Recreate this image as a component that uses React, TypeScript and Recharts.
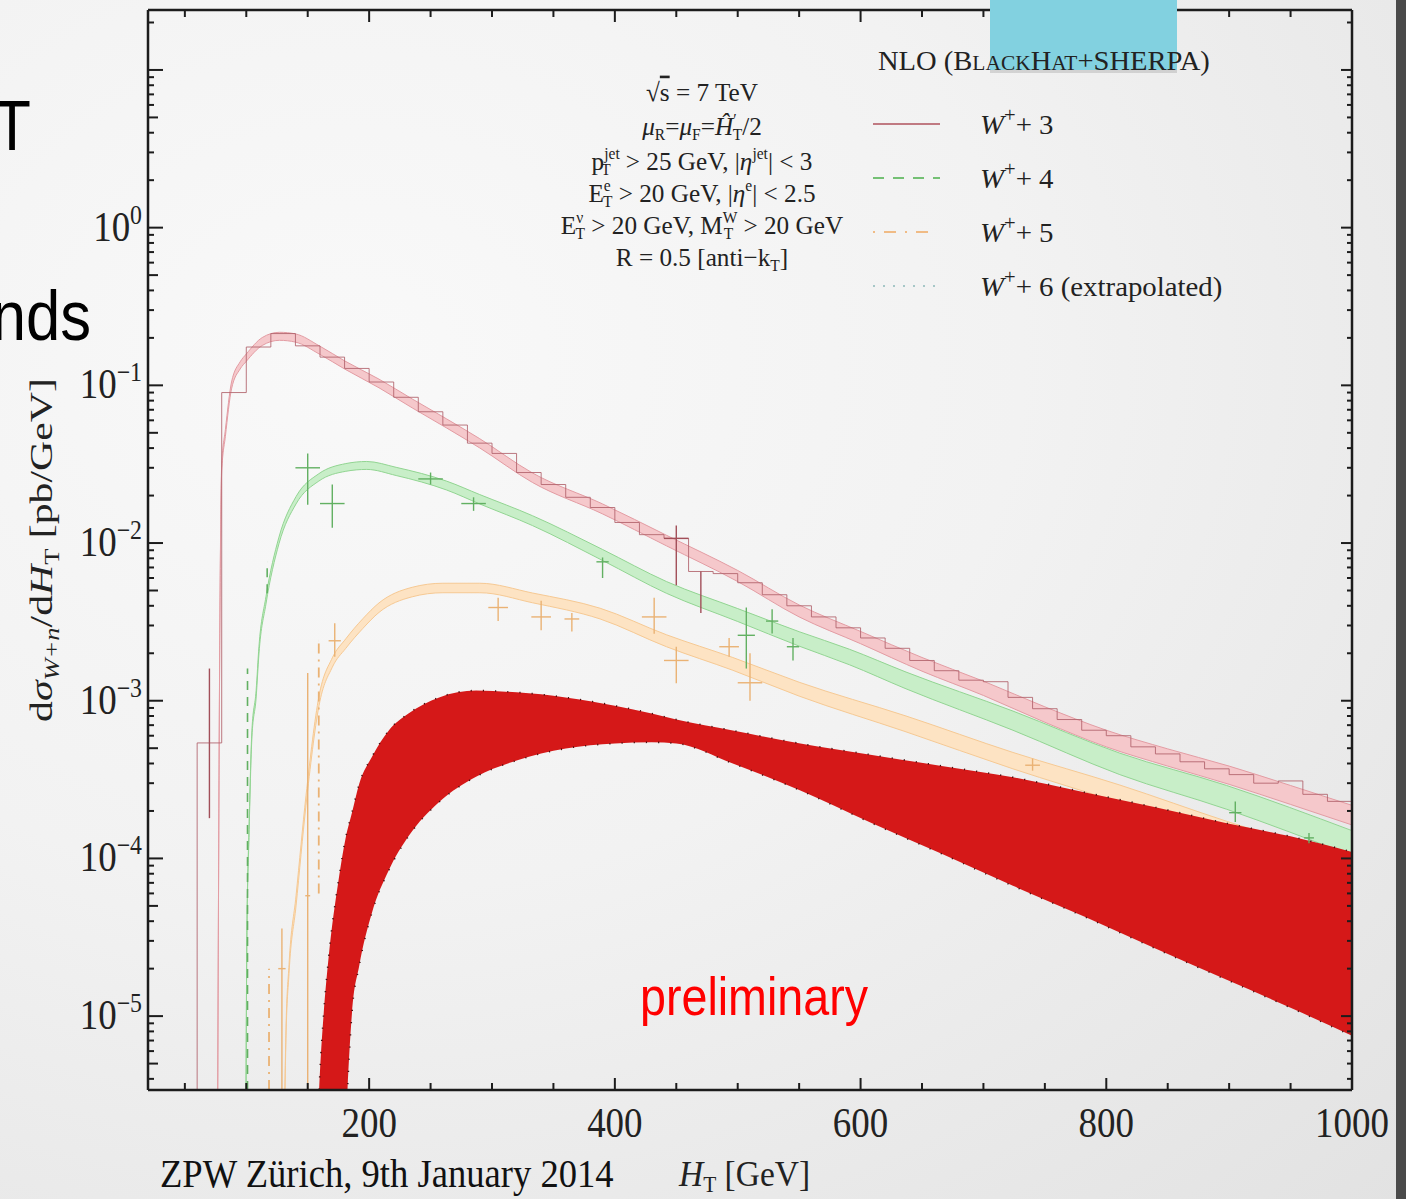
import React from 'react';
import { ComposedChart, XAxis, YAxis, Area, Line, Scatter, ErrorBar } from 'recharts';

const W = 1406;
const H = 1199;
const SERIF = '"Liberation Serif", "DejaVu Serif", serif';
const SANS = '"Liberation Sans", Arial, sans-serif';
const SX = 0.88;

// ---------- axes ----------
const xDomain = [20, 1000];
const xTicks = [50, 100, 150, 200, 250, 300, 350, 400, 450, 500, 550, 600, 650, 700, 750, 800, 850, 900, 950, 1000];
const xLabelTicks = [200, 400, 600, 800, 1000];
const yDomain = [3.4e-6, 24];
const yDecadeExps = [-6, -5, -4, -3, -2, -1, 0, 1];
const yLabelExps = [-5, -4, -3, -2, -1, 0];
const yMinorMult = [2, 3, 4, 5, 6, 7, 8, 9];

// ---------- W+3 band ----------
const w3X = [76.5, 78.5, 80, 83, 88, 95, 100, 113, 127, 140, 160, 180, 208, 235, 263, 290, 333, 390, 442, 500, 550, 600, 650, 700, 750, 800, 850, 900, 950, 1000];
const w3Lo = [1e-6, 2.85e-3, 0.0285, 0.0475, 0.095, 0.127, 0.142, 0.179, 0.193, 0.188, 0.157, 0.127, 0.0965, 0.072, 0.0537, 0.0401, 0.0242, 0.0153, 9.6e-3, 5.7e-3, 3.4e-3, 2.3e-3, 1.54e-3, 1.08e-3, 7.3e-4, 5.1e-4, 3.85e-4, 2.95e-4, 2.2e-4, 1.63e-4];
const w3Hi = [1e-6, 3.15e-3, 0.0315, 0.0525, 0.105, 0.141, 0.158, 0.201, 0.217, 0.212, 0.177, 0.143, 0.1095, 0.082, 0.0613, 0.0459, 0.0278, 0.0177, 0.0112, 6.7e-3, 4.05e-3, 2.75e-3, 1.88e-3, 1.33e-3, 9.15e-4, 6.5e-4, 4.95e-4, 3.85e-4, 2.9e-4, 2.17e-4];

// ---------- W+4 band ----------
const w4X = [99.5, 100.5, 102.2, 104.6, 108, 110.3, 116, 126.6, 140.5, 159, 181, 198, 222, 263, 290, 333, 390, 442, 500, 550, 591, 637, 724, 811, 898, 1000];
const w4Lo = [1e-6, 3.1e-5, 1.36e-4, 5.9e-4, 1.04e-3, 1.98e-3, 4.1e-3, 9.9e-3, 0.0177, 0.0247, 0.0285, 0.0293, 0.0268, 0.0217, 0.0177, 0.0129, 7.75e-3, 4.8e-3, 3.18e-3, 2.22e-3, 1.69e-3, 1.19e-3, 6.5e-4, 3.4e-4, 2.05e-4, 1.04e-4];
const w4Hi = [1e-6, 3.5e-5, 1.52e-4, 6.5e-4, 1.16e-3, 2.2e-3, 4.56e-3, 0.0109, 0.0197, 0.0275, 0.0319, 0.0329, 0.0302, 0.0247, 0.0203, 0.0149, 9.1e-3, 5.7e-3, 3.84e-3, 2.74e-3, 2.12e-3, 1.52e-3, 8.6e-4, 4.65e-4, 2.9e-4, 1.5e-4];

// ---------- W+5 band ----------
const w5X = [130.5, 132.3, 134.8, 140.5, 148.6, 159.2, 170, 181, 195, 208, 235, 260, 290, 333, 388, 442, 496, 550, 637, 724, 811, 898, 1000];
const w5Lo = [1e-6, 7.2e-6, 1.87e-5, 5.0e-5, 2.17e-4, 9.3e-4, 1.63e-3, 2.15e-3, 2.88e-3, 3.63e-3, 4.56e-3, 4.84e-3, 4.84e-3, 4.18e-3, 3.3e-3, 2.2e-3, 1.56e-3, 1.07e-3, 6.35e-4, 3.7e-4, 2.25e-4, 1.3e-4, 7.3e-5];
const w5Hi = [1e-6, 8.2e-6, 2.13e-5, 5.8e-5, 2.5e-4, 1.07e-3, 1.87e-3, 2.47e-3, 3.32e-3, 4.17e-3, 5.24e-3, 5.56e-3, 5.56e-3, 4.82e-3, 3.86e-3, 2.62e-3, 1.88e-3, 1.31e-3, 8.0e-4, 4.7e-4, 2.92e-4, 1.72e-4, 9.8e-5];

// ---------- W+6 (extrapolated) band ----------
const w6X = [158, 160, 163, 167, 175, 181, 186, 192, 202, 216, 232, 257, 287, 320, 360, 400, 430, 450, 496, 551, 608, 666, 724, 782, 840, 898, 950, 1000];
const w6Lo = [1e-7, 1e-7, 1e-7, 1e-7, 1e-7, 2e-6, 1.04e-5, 2.1e-5, 4.45e-5, 8.4e-5, 1.38e-4, 2.28e-4, 3.3e-4, 4.18e-4, 4.98e-4, 5.36e-4, 5.45e-4, 5.36e-4, 4.0e-4, 2.7e-4, 1.69e-4, 1.07e-4, 6.7e-5, 4.28e-5, 2.68e-5, 1.7e-5, 1.13e-5, 7.5e-6];
const w6Hi = [2e-6, 4.5e-6, 1.04e-5, 2.35e-5, 7.2e-5, 1.36e-4, 1.95e-4, 2.99e-4, 4.37e-4, 6.48e-4, 8.3e-4, 1.05e-3, 1.16e-3, 1.13e-3, 1.05e-3, 9.3e-4, 8.3e-4, 7.6e-4, 6.48e-4, 5.35e-4, 4.55e-4, 3.86e-4, 3.27e-4, 2.63e-4, 2.11e-4, 1.67e-4, 1.38e-4, 1.1e-4];

// ---------- W+3 NLO histogram (bin left edges) ----------
const w3HistX = [50, 60, 80, 100, 120, 140, 160, 180, 200, 220, 240, 260, 280, 300, 320, 340, 360, 380, 400, 420, 440, 460, 480, 500, 520, 540, 560, 580, 600, 620, 640, 660, 680, 700, 720, 740, 760, 780, 800, 820, 840, 860, 880, 900, 920, 940, 960, 980, 1000];
const w3HistY = [1e-7, 5.4e-4, 0.090, 0.175, 0.213, 0.178, 0.151, 0.128, 0.105, 0.084, 0.068, 0.056, 0.043, 0.037, 0.028, 0.0235, 0.0195, 0.0168, 0.0135, 0.0113, 0.0107, 6.6e-3, 6.4e-3, 5.6e-3, 4.7e-3, 4.0e-3, 3.4e-3, 2.9e-3, 2.5e-3, 2.15e-3, 1.8e-3, 1.55e-3, 1.35e-3, 1.32e-3, 1.05e-3, 8.9e-4, 7.6e-4, 6.5e-4, 6.0e-4, 5.1e-4, 4.6e-4, 4.1e-4, 3.7e-4, 3.4e-4, 3.0e-4, 3.1e-4, 2.55e-4, 2.3e-4, 2.3e-4];

// ---------- error crosses ----------
const w3ErrX = [70, 450, 470];
const w3ErrY = [5.4e-4, 0.0107, 6.6e-3];
const w3ErrLo = [1.8e-4, 5.4e-3, 3.6e-3];
const w3ErrHi = [1.6e-3, 0.0129, 6.6e-3];
const w3ErrDx = [0, 10, 0];

const w4ErrX = [150, 170, 250, 285, 390, 507, 528, 545, 905, 965];
const w4ErrY = [0.030, 0.0178, 0.0255, 0.0178, 7.6e-3, 2.6e-3, 3.2e-3, 2.2e-3, 1.95e-4, 1.35e-4];
const w4ErrLo = [0.0175, 0.0125, 0.0235, 0.016, 6.0e-3, 1.6e-3, 2.67e-3, 1.8e-3, 1.7e-4, 1.25e-4];
const w4ErrHi = [0.037, 0.0235, 0.028, 0.0195, 8.1e-3, 3.9e-3, 3.8e-3, 2.5e-3, 2.3e-4, 1.45e-4];
const w4ErrDx = [10, 10, 10, 10, 5, 7, 5, 5, 5, 4];
// dashed (low-statistics) W+4 bars
const w4DashX = [101, 117];
const w4DashY = [8e-4, 6.2e-3];
const w4DashLo = [1e-7, 4.8e-3];
const w4DashHi = [1.6e-3, 7.6e-3];

const w5ErrX = [129, 150, 172, 305, 340, 365, 432, 450, 493, 510, 740];
const w5ErrY = [2.0e-5, 5.8e-5, 2.4e-3, 3.9e-3, 3.4e-3, 3.3e-3, 3.4e-3, 1.8e-3, 2.2e-3, 1.3e-3, 3.9e-4];
const w5ErrLo = [1e-7, 1e-7, 1.9e-3, 3.2e-3, 2.8e-3, 2.75e-3, 2.66e-3, 1.29e-3, 1.9e-3, 1.0e-3, 3.6e-4];
const w5ErrHi = [3.6e-5, 1.5e-3, 3.1e-3, 4.5e-3, 4.3e-3, 3.6e-3, 4.5e-3, 2.2e-3, 2.5e-3, 2.0e-3, 4.3e-4];
const w5ErrDx = [3, 2, 5, 8, 8, 6, 10, 10, 8, 10, 6];
// dash-dot W+5 bars
const w5DashX = [118.5, 159];
const w5DashY = [1.2e-5, 7e-4];
const w5DashLo = [1e-7, 6e-5];
const w5DashHi = [2.0e-5, 2.4e-3];

// ---------- build rows ----------
const band = (xs: number[], lo: number[], hi: number[]) => xs.map((x, i) => ({ x, r: [lo[i], hi[i]] }));
// error bars are not clipped by the chart, so their lower ends stop at the bottom of the axis range
const errs = (xs: number[], ys: number[], lo: number[], hi: number[], dx?: number[]) =>
  xs.map((x, i) => {
    const l = Math.max(lo[i], yDomain[0]);
    return { x, y: ys[i], ey: [ys[i] - l, hi[i] - ys[i]], ex: dx ? dx[i] : 0 };
  });

const w3Band = band(w3X, w3Lo, w3Hi);
const w4Band = band(w4X, w4Lo, w4Hi);
const w5Band = band(w5X, w5Lo, w5Hi);
const w6Band = band(w6X, w6Lo, w6Hi);
const w3Hist = w3HistX.map((x, i) => ({ x, h: w3HistY[i] }));
const w3Errs = errs(w3ErrX, w3ErrY, w3ErrLo, w3ErrHi, w3ErrDx);
const w4Errs = errs(w4ErrX, w4ErrY, w4ErrLo, w4ErrHi, w4ErrDx);
const w5Errs = errs(w5ErrX, w5ErrY, w5ErrLo, w5ErrHi, w5ErrDx);
const w4Dash = errs(w4DashX, w4DashY, w4DashLo, w4DashHi);
const w5Dash = errs(w5DashX, w5DashY, w5DashLo, w5DashHi);

const yTicks: number[] = [];
yDecadeExps.forEach((e) => {
  yTicks.push(Math.pow(10, e));
  yMinorMult.forEach((m) => yTicks.push(m * Math.pow(10, e)));
});
const yTicksIn = yTicks.filter((v) => v >= yDomain[0] && v <= yDomain[1]);

const isDecade = (v: number) => Math.abs(Math.log10(v) - Math.round(Math.log10(v))) < 1e-6;
const mantissa = (v: number) => Math.round(v / Math.pow(10, Math.floor(Math.log10(v) + 1e-9)));

const AX = '#1c1c1c';

function BottomTick(p: any) {
  const { x, y, payload } = p;
  const v = payload.value;
  const major = xLabelTicks.includes(v);
  return (
    <g>
      <line x1={x} x2={x} y1={y} y2={y - (major ? 12 : 7)} stroke={AX} strokeWidth={2} />
      {major && (
        <g transform={`translate(${x},${y + 47}) scale(${SX},1)`}>
          <text x={0} y={0} textAnchor="middle" fontFamily={SERIF} fontSize={42} fill="#222">{v}</text>
        </g>
      )}
    </g>
  );
}
function TopTick(p: any) {
  const { x, y, payload } = p;
  const major = xLabelTicks.includes(payload.value);
  return <line x1={x} x2={x} y1={y} y2={y + (major ? 12 : 7)} stroke={AX} strokeWidth={2} />;
}
function LeftTick(p: any) {
  const { x, y, payload } = p;
  const v = payload.value;
  const dec = isDecade(v);
  const e = Math.round(Math.log10(v));
  const m = mantissa(v);
  const len = dec ? 15 : m === 5 ? 10 : 6;
  return (
    <g>
      <line x1={x} x2={x + len} y1={y} y2={y} stroke={AX} strokeWidth={2} />
      {dec && yLabelExps.includes(e) && (
        <g transform={`translate(${x - 6},${y + 13}) scale(${SX},1)`}>
          <text x={0} y={0} textAnchor="end" fontFamily={SERIF} fontSize={42} fill="#222">
            10<tspan dy={-17} fontSize={27}>{e === 0 ? '0' : '\u2212' + -e}</tspan>
          </text>
        </g>
      )}
    </g>
  );
}
function RightTick(p: any) {
  const { x, y, payload } = p;
  const v = payload.value;
  const dec = isDecade(v);
  const len = dec ? 11 : 5;
  return <line x1={x} x2={x - len} y1={y} y2={y} stroke={AX} strokeWidth={2} />;
}

const EmptyShape = () => <g />;

function T(props: any) {
  const { x, y, sx = SX, anchor = 'start', size, family = SERIF, fill = '#222', style, children } = props;
  return (
    <g transform={`translate(${x},${y}) scale(${sx},1)`}>
      <text x={0} y={0} textAnchor={anchor} fontFamily={family} fontSize={size} fill={fill} style={style}>
        {children}
      </text>
    </g>
  );
}

export default function App() {
  const axisLine = { stroke: AX, strokeWidth: 2.5 };
  const ann = 26;
  const annS = 16;
  const annSX = 0.97;
  return (
    <div
      style={{
        position: 'absolute',
        left: 0,
        top: 0,
        width: W,
        height: H,
        overflow: 'hidden',
        background: 'radial-gradient(ellipse at 25% 30%, #f9f9f9 0%, #f2f2f2 45%, #e2e2e2 100%)',
      }}
    >
      <div style={{ position: 'absolute', left: 1396, top: 0, width: 10, height: H, background: '#4a4a4a' }} />
      <ComposedChart width={W} height={H} margin={{ top: 0, right: 0, bottom: 0, left: 0 }}>
        <XAxis xAxisId="b" orientation="bottom" type="number" dataKey="x" domain={xDomain} allowDataOverflow
          ticks={xTicks} interval={0} height={109} tickLine={false} tickSize={0} tickMargin={0}
          axisLine={axisLine} tick={(p: any) => <BottomTick {...p} />} />
        <XAxis xAxisId="t" orientation="top" type="number" dataKey="x" domain={xDomain} allowDataOverflow
          ticks={xTicks} interval={0} height={10} tickLine={false} tickSize={0} tickMargin={0}
          axisLine={axisLine} tick={(p: any) => <TopTick {...p} />} />
        <YAxis yAxisId="l" orientation="left" type="number" dataKey="y" scale="log" domain={yDomain} allowDataOverflow
          ticks={yTicksIn} interval={0} width={148} tickLine={false} tickSize={0} tickMargin={0}
          axisLine={axisLine} tick={(p: any) => <LeftTick {...p} />} />
        <YAxis yAxisId="r" orientation="right" type="number" dataKey="y" scale="log" domain={yDomain} allowDataOverflow
          ticks={yTicksIn} interval={0} width={54} tickLine={false} tickSize={0} tickMargin={0}
          axisLine={axisLine} tick={(p: any) => <RightTick {...p} />} />

        <Area xAxisId="b" yAxisId="l" data={w3Band} dataKey="r" type="monotone" fill="#f5c8cb" fillOpacity={1}
          stroke="#e39ca3" strokeWidth={1} isAnimationActive={false} dot={false} activeDot={false} />
        <Area xAxisId="b" yAxisId="l" data={w4Band} dataKey="r" type="monotone" fill="#c8eec8" fillOpacity={1}
          stroke="#92d592" strokeWidth={1} isAnimationActive={false} dot={false} activeDot={false} />
        <Area xAxisId="b" yAxisId="l" data={w5Band} dataKey="r" type="monotone" fill="#fde3c3" fillOpacity={1}
          stroke="#f6c993" strokeWidth={1} isAnimationActive={false} dot={false} activeDot={false} />
        <Area xAxisId="b" yAxisId="l" data={w6Band} dataKey="r" type="monotone" fill="#d51818" fillOpacity={1}
          stroke="#4a1010" strokeWidth={1.6} strokeDasharray="1.2 11" isAnimationActive={false} dot={false} activeDot={false} />

        <Line xAxisId="b" yAxisId="l" data={w3Hist} dataKey="h" type="stepAfter" stroke="#b0606a" strokeOpacity={0.85}
          strokeWidth={1} dot={false} activeDot={false} isAnimationActive={false} />

        <Scatter xAxisId="b" yAxisId="l" data={w3Errs} dataKey="y" shape={EmptyShape} isAnimationActive={false}>
          <ErrorBar dataKey="ey" direction="y" width={0} stroke="#a24f59" strokeWidth={1.4} isAnimationActive={false} />
          <ErrorBar dataKey="ex" direction="x" width={0} stroke="#a24f59" strokeWidth={1.4} isAnimationActive={false} />
        </Scatter>
        <Scatter xAxisId="b" yAxisId="l" data={w4Errs} dataKey="y" shape={EmptyShape} isAnimationActive={false}>
          <ErrorBar dataKey="ey" direction="y" width={0} stroke="#62b062" strokeWidth={1.4} isAnimationActive={false} />
          <ErrorBar dataKey="ex" direction="x" width={0} stroke="#62b062" strokeWidth={1.4} isAnimationActive={false} />
        </Scatter>
        <Scatter xAxisId="b" yAxisId="l" data={w4Dash} dataKey="y" shape={EmptyShape} isAnimationActive={false}>
          <ErrorBar dataKey="ey" direction="y" width={0} stroke="#62b062" strokeWidth={1.6} strokeDasharray="9 7" isAnimationActive={false} />
        </Scatter>
        <Scatter xAxisId="b" yAxisId="l" data={w5Errs} dataKey="y" shape={EmptyShape} isAnimationActive={false}>
          <ErrorBar dataKey="ey" direction="y" width={0} stroke="#eab274" strokeWidth={1.4} isAnimationActive={false} />
          <ErrorBar dataKey="ex" direction="x" width={0} stroke="#eab274" strokeWidth={1.4} isAnimationActive={false} />
        </Scatter>
        <Scatter xAxisId="b" yAxisId="l" data={w5Dash} dataKey="y" shape={EmptyShape} isAnimationActive={false}>
          <ErrorBar dataKey="ey" direction="y" width={0} stroke="#eab274" strokeWidth={1.8} strokeDasharray="10 6 2 6" isAnimationActive={false} />
        </Scatter>
      </ComposedChart>

      <svg width={W} height={H} style={{ position: 'absolute', left: 0, top: 0, pointerEvents: 'none' }}>
        {/* slide title fragments */}
        <T x={31} y={150} size={70} family={SANS} anchor="end" fill="#000">T</T>
        <T x={91} y={340} size={70} family={SANS} anchor="end" fill="#000">nds</T>

        {/* cyan box */}
        <rect x={990} y={0} width={187} height={73} fill="rgba(0,0,0,0.12)" />
        <rect x={990} y={0} width={187} height={70} fill="#82d1e0" />

        {/* cuts annotation */}
        <T x={702} y={101} size={ann} sx={annSX} anchor="middle">
          √<tspan style={{ textDecoration: 'overline' }}>s</tspan> = 7 TeV
        </T>
        <T x={702} y={135} size={ann} sx={annSX} anchor="middle">
          <tspan fontStyle="italic">μ</tspan><tspan fontSize={annS} dy={5}>R</tspan>
          <tspan dy={-5}>=</tspan><tspan fontStyle="italic">μ</tspan><tspan fontSize={annS} dy={5}>F</tspan>
          <tspan dy={-5}>=</tspan><tspan fontStyle="italic">Ĥ</tspan><tspan fontSize={annS} dy={-10}>′</tspan>
          <tspan fontSize={annS} dx={-4} dy={15}>T</tspan><tspan dy={-5}>/2</tspan>
        </T>
        <T x={702} y={170} size={ann} sx={annSX} anchor="middle">
          p<tspan fontSize={annS} dy={-11}>jet</tspan><tspan fontSize={annS} dx={-19} dy={16}>T</tspan>
          <tspan dy={-5} dx={9}> &gt; 25 GeV, |</tspan><tspan fontStyle="italic">η</tspan>
          <tspan fontSize={annS} dy={-11}>jet</tspan><tspan dy={11}>| &lt; 3</tspan>
        </T>
        <T x={702} y={202} size={ann} sx={annSX} anchor="middle">
          E<tspan fontSize={annS} dy={-11}>e</tspan><tspan fontSize={annS} dx={-8} dy={16}>T</tspan>
          <tspan dy={-5}> &gt; 20 GeV, |</tspan><tspan fontStyle="italic">η</tspan>
          <tspan fontSize={annS} dy={-11}>e</tspan><tspan dy={11}>| &lt; 2.5</tspan>
        </T>
        <T x={702} y={234} size={ann} sx={annSX} anchor="middle">
          E<tspan fontSize={annS} dy={-11}>ν</tspan><tspan fontSize={annS} dx={-8} dy={16}>T</tspan>
          <tspan dy={-5}> &gt; 20 GeV, M</tspan><tspan fontSize={annS} dy={-11}>W</tspan>
          <tspan fontSize={annS} dx={-14} dy={16}>T</tspan><tspan dy={-5} dx={4}> &gt; 20 GeV</tspan>
        </T>
        <T x={702} y={266} size={ann} sx={annSX} anchor="middle">
          R = 0.5 [anti−k<tspan fontSize={annS} dy={5}>T</tspan><tspan dy={-5}>]</tspan>
        </T>

        {/* legend */}
        <T x={878} y={70} size={28} sx={1.02}>
          NLO (B<tspan fontSize={21}>LACK</tspan>H<tspan fontSize={21}>AT</tspan>+SHERPA)
        </T>
        <line x1={873} x2={940} y1={124} y2={124} stroke="#c07a82" strokeWidth={2} />
        <line x1={873} x2={940} y1={178} y2={178} stroke="#74c074" strokeWidth={2} strokeDasharray="11 9" />
        <line x1={873} x2={930} y1={232} y2={232} stroke="#f0bb85" strokeWidth={2} strokeDasharray="2 9 12 9" />
        <line x1={873} x2={940} y1={286} y2={286} stroke="#a6c7c7" strokeWidth={2} strokeDasharray="2 8" />
        {[
          ['3', 134],
          ['4', 188],
          ['5', 242],
          ['6 (extrapolated)', 296],
        ].map(([lab, yy]) => (
          <T key={lab as string} x={980} y={yy} size={28} sx={1.03}>
            <tspan fontStyle="italic">W</tspan>
            <tspan fontSize={20} dy={-12}>+</tspan>
            <tspan dy={12}>+ {lab}</tspan>
          </T>
        ))}

        {/* axis titles */}
        <g transform="translate(52,550) rotate(-90) scale(1.1,0.85)">
          <text x={0} y={0} textAnchor="middle" fontFamily={SERIF} fontSize={38} fill="#222">
            d<tspan fontStyle="italic">σ</tspan>
            <tspan fontSize={24} dy={8} fontStyle="italic">W+n</tspan>
            <tspan dy={-8}>/d</tspan><tspan fontStyle="italic">H</tspan>
            <tspan fontSize={24} dy={8}>T</tspan>
            <tspan dy={-8}>  [pb/GeV]</tspan>
          </text>
        </g>
        <T x={679} y={1186} size={36} sx={0.93}>
          <tspan fontStyle="italic">H</tspan><tspan fontSize={23} dy={6}>T</tspan>
          <tspan dy={-6}>  [GeV]</tspan>
        </T>

        {/* footer */}
        <T x={160} y={1187} size={40} sx={0.915} fill="#111">ZPW Zürich, 9th January 2014</T>

        {/* preliminary */}
        <T x={640} y={1015} size={53} family={SANS} fill="#ff0000">preliminary</T>
      </svg>
    </div>
  );
}
